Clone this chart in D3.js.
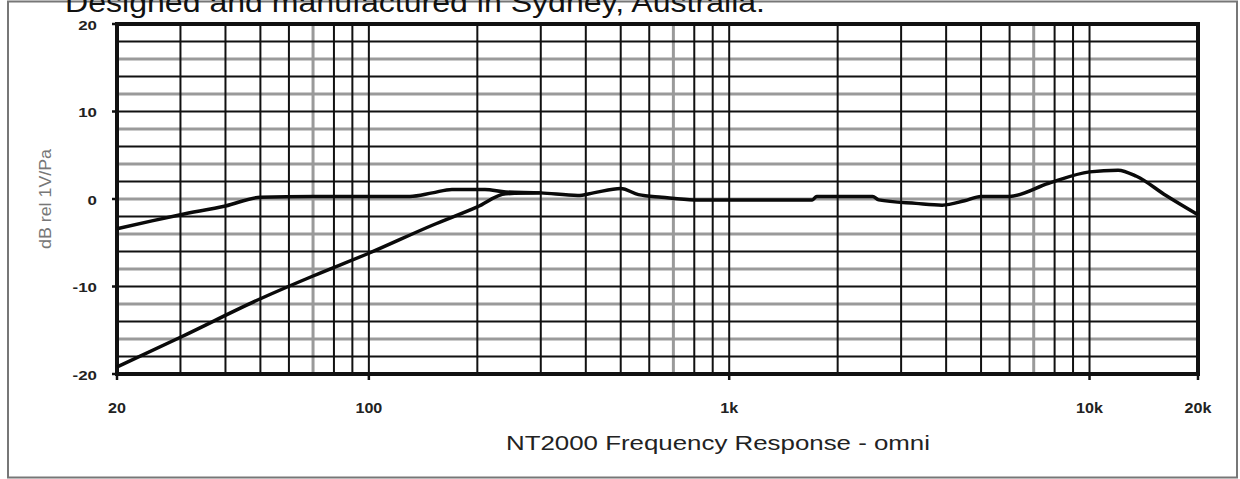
<!DOCTYPE html>
<html><head><meta charset="utf-8">
<script src="https://cdn.jsdelivr.net/npm/d3@7"></script>
<style>html,body{margin:0;padding:0;background:#fff;}svg{display:block;}</style>
</head><body>
<svg id="chart" width="1240" height="479"></svg>
<script>
// ---- data ----
const xTickValues = [20, 100, 1000, 10000, 20000];
const xTickLabels = ["20", "100", "1k", "10k", "20k"];
const yTickValues = [20, 10, 0, -10, -20];
const yTickLabels = ["20", "10", "0", "-10", "-20"];
const gridFreqBlack = [30,40,50,60,80,90,100,200,300,400,500,600,800,900,1000,2000,3000,4000,5000,6000,8000,9000,10000];
const gridFreqGray = [70,700,7000];
const gridDbBlack = [18,14,10,6,2,-2,-6,-10,-14,-18];
const gridDbGray = [16,12,8,4,0,-4,-8,-12,-16];
const omniFreq = [20,25,30,40,50,70,100,130,150,170,210,240,300,380,420,500,560,650,800,1000,1700,1750,2500,2600,3300,3900,4500,5000,6000,7700,10000,12000,13500,16300,20000];
const omniDb   = [-3.4,-2.5,-1.8,-0.8,0.2,0.3,0.3,0.3,0.7,1.1,1.1,0.8,0.7,0.4,0.7,1.2,0.5,0.2,-0.1,-0.1,-0.1,0.3,0.3,-0.1,-0.5,-0.7,-0.2,0.3,0.3,1.8,3.1,3.3,2.6,0.4,-1.8];
const lowCutFreq = [20,30,50,70,100,150,200,240,300];
const lowCutDb   = [-19.2,-15.8,-11.4,-8.8,-6.2,-3.0,-0.9,0.6,0.7];
const topText = "Designed and manufactured in Sydney, Australia.";
const xTitle = "NT2000 Frequency Response - omni";
const yTitle = "dB rel 1V/Pa";

// ---- drawing ----
const svg = d3.select("#chart");
const x = d3.scaleLog().domain([20, 20000]).range([117, 1198]);
const y = d3.scaleLinear().domain([-20, 20]).range([374, 24]);
const font = "Liberation Sans, Arial, Helvetica, sans-serif";

// outer frame
svg.append("rect").attr("x", 8).attr("y", 1.5).attr("width", 1229).attr("height", 476)
  .attr("fill", "none").attr("stroke", "#777").attr("stroke-width", 2);

// top text (partly above the page top, as in the scan)
svg.append("text").attr("x", 65).attr("y", 12)
  .attr("font-family", font).attr("font-size", 28).attr("fill", "#111")
  .attr("textLength", 700).attr("lengthAdjust", "spacingAndGlyphs")
  .text(topText);

const g = svg.append("g");
// gray gridlines
g.selectAll("line.hg").data(gridDbGray).join("line")
  .attr("x1", x(20)).attr("x2", x(20000)).attr("y1", d => y(d)).attr("y2", d => y(d))
  .attr("stroke", "#9a9a9a").attr("stroke-width", 3);
g.selectAll("line.vg").data(gridFreqGray).join("line")
  .attr("y1", y(20)).attr("y2", y(-20)).attr("x1", d => x(d)).attr("x2", d => x(d))
  .attr("stroke", "#9a9a9a").attr("stroke-width", 3);
// black gridlines
g.selectAll("line.hb").data(gridDbBlack).join("line")
  .attr("x1", x(20)).attr("x2", x(20000)).attr("y1", d => y(d)).attr("y2", d => y(d))
  .attr("stroke", "#111").attr("stroke-width", 2);
g.selectAll("line.vb").data(gridFreqBlack).join("line")
  .attr("y1", y(20)).attr("y2", y(-20)).attr("x1", d => x(d)).attr("x2", d => x(d))
  .attr("stroke", "#111").attr("stroke-width", 2);

// plot border
g.append("rect").attr("x", x(20)).attr("y", y(20)).attr("width", x(20000) - x(20)).attr("height", y(-20) - y(20))
  .attr("fill", "none").attr("stroke", "#111").attr("stroke-width", 4);

// ticks
g.selectAll("line.xt").data(xTickValues).join("line")
  .attr("x1", d => x(d)).attr("x2", d => x(d)).attr("y1", y(-20)).attr("y2", y(-20) + 6)
  .attr("stroke", "#111").attr("stroke-width", 2.5);
g.selectAll("line.yt").data(yTickValues).join("line")
  .attr("x1", x(20) - 5).attr("x2", x(20)).attr("y1", d => y(d)).attr("y2", d => y(d))
  .attr("stroke", "#111").attr("stroke-width", 2.5);

// curves
const line = d3.line().x(d => x(d[0])).y(d => y(d[1])).curve(d3.curveMonotoneX);
const omni = omniFreq.map((f, i) => [f, omniDb[i]]);
const lowCut = lowCutFreq.map((f, i) => [f, lowCutDb[i]]);
[lowCut, omni].forEach(s => {
  g.append("path").datum(s).attr("d", line).attr("fill", "none")
    .attr("stroke", "#0a0a0a").attr("stroke-width", 3.5).attr("stroke-linejoin", "round");
});

// tick labels
function label(px, py, str, anchor, size, sx) {
  svg.append("text").attr("transform", `translate(${px},${py}) scale(${sx},1)`)
    .attr("text-anchor", anchor).attr("dominant-baseline", "central")
    .attr("font-family", font).attr("font-weight", "bold").attr("font-size", size)
    .attr("fill", "#222").text(str);
}
yTickValues.forEach((v, i) => label(97, y(v) + 1, yTickLabels[i], "end", 13, 1.3));
xTickValues.forEach((v, i) => label(x(v), 408, xTickLabels[i], "middle", 14, 1.15));

// axis titles
svg.append("text").attr("x", 718).attr("y", 443).attr("text-anchor", "middle")
  .attr("dominant-baseline", "central")
  .attr("font-family", font).attr("font-size", 20).attr("fill", "#222")
  .attr("textLength", 424).attr("lengthAdjust", "spacingAndGlyphs").text(xTitle);
svg.append("text").attr("transform", `translate(45,${y(0)}) rotate(-90)`)
  .attr("text-anchor", "middle").attr("dominant-baseline", "central")
  .attr("font-family", font).attr("font-size", 16).attr("fill", "#777")
  .attr("textLength", 100).attr("lengthAdjust", "spacingAndGlyphs").text(yTitle);
</script>
</body></html>
